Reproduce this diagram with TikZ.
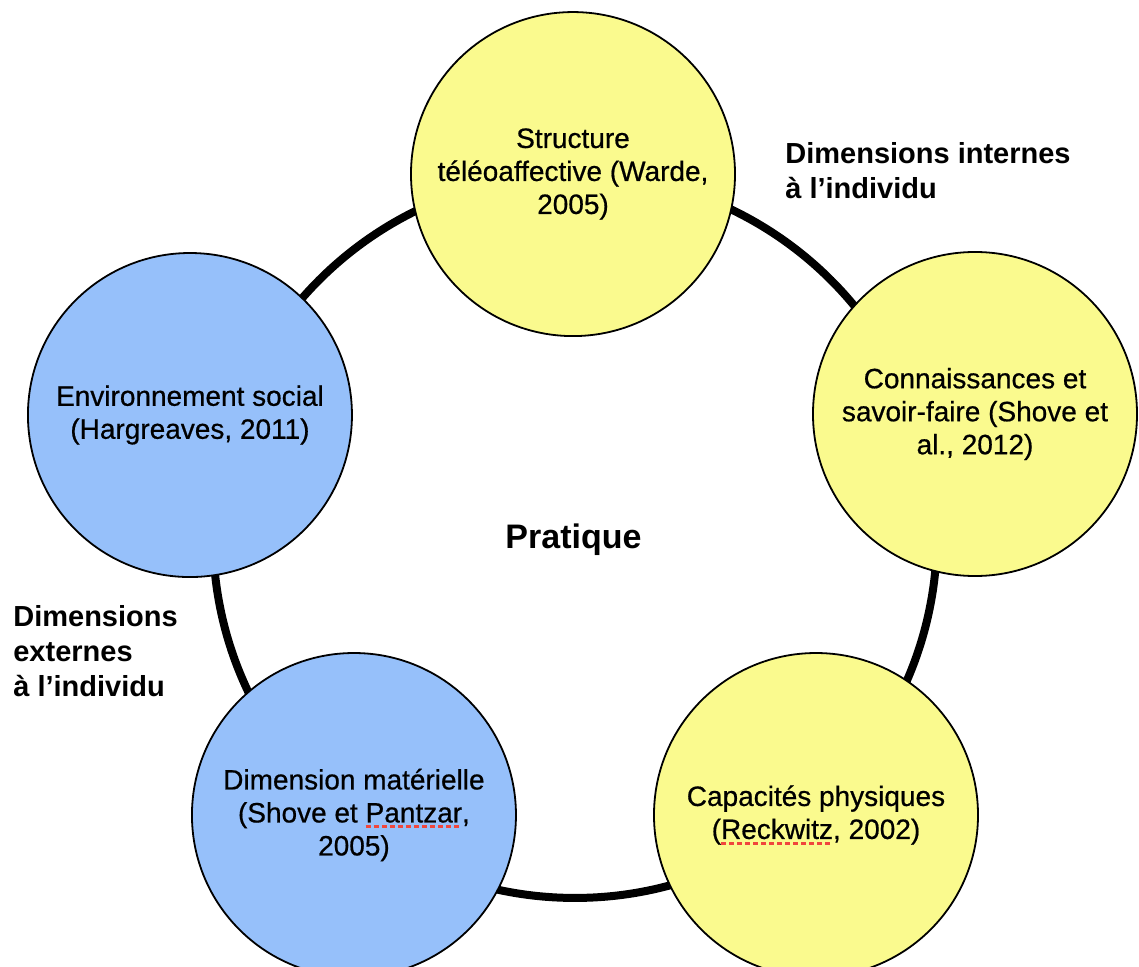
\documentclass[tikz,border=0pt]{standalone}
\usepackage{fontspec}
\setmainfont{Liberation Sans}
\newfontfamily\dimfont{Liberation Sans}[FakeBold=0.6]
\usepackage{tikz}
\pgfdeclarelayer{bg}
\pgfsetlayers{bg,main}
\definecolor{dimyellow}{RGB}{250,250,142}
\definecolor{dimblue}{RGB}{150,192,250}
\definecolor{spellred}{RGB}{240,70,60}
\newsavebox{\spellbox}
\newcommand{\spellmark}[1]{\sbox{\spellbox}{#1}\rlap{\raisebox{-2.8pt}[0pt][0pt]{\color{spellred}\hbox to \wd\spellbox{\xleaders\hbox{\rule{2.5pt}{1.3pt}\kern1.5pt}\hfill}}}\usebox{\spellbox}}
\tikzset{
  dim/.style={circle, draw, line width=0.9pt, minimum size=5.694cm, inner sep=0pt,
    align=center, font=\dimfont\fontsize{14}{16.5}\selectfont},
  interne/.style={dim, fill=dimyellow},
  externe/.style={dim, fill=dimblue},
  dimlabel/.style={inner sep=0pt, align=left, anchor=north west,
    font=\bfseries\fontsize{14.5}{17.5}\selectfont}
}

\begin{document}
\begin{tikzpicture}
        \useasboundingbox (-10.104000cm, -7.556000cm) rectangle (9.911000cm, 9.419000cm);
        \coordinate (c0) at (0cm, 0cm);
        \node (teleo) [interne] at (-0.035000cm, 6.360000cm) {Structure\\t\'el\'eoaffective (Warde,\\2005)};
        \node (savoir) [interne] at (7.029000cm, 2.144000cm) {Connaissances et\\savoir-faire (Shove et\\al., 2012)};
        \node (capac) [interne] at (4.235000cm, -4.903000cm) {Capacit\'es physiques\\(\spellmark{Reckwitz}, 2002)};
        \node (materiel) [externe] at (-3.884000cm, -4.903000cm) {Dimension mat\'erielle\\(Shove et \spellmark{Pantzar},\\2005)};
        \node (social) [externe] at (-6.766000cm, 2.126000cm) {Environnement social\\(Hargreaves, 2011)};
        \node (pratique) [anchor=base, font=\bfseries\fontsize{17}{20}\selectfont] at (-0.026000cm, -0.211000cm) {Pratique};
        \node (lblint) [dimlabel] at (3.690000cm, 6.924000cm) {Dimensions internes\\à l’individu};
        \node (lblext) [dimlabel] at (-9.876000cm, -1.213000cm) {Dimensions\\externes\\à l’individu};
        \begin{pgfonlayer}{bg}
                \draw [line width=4pt] (c0) circle (6.360000cm);
        \end{pgfonlayer}
\end{tikzpicture}
\end{document}
